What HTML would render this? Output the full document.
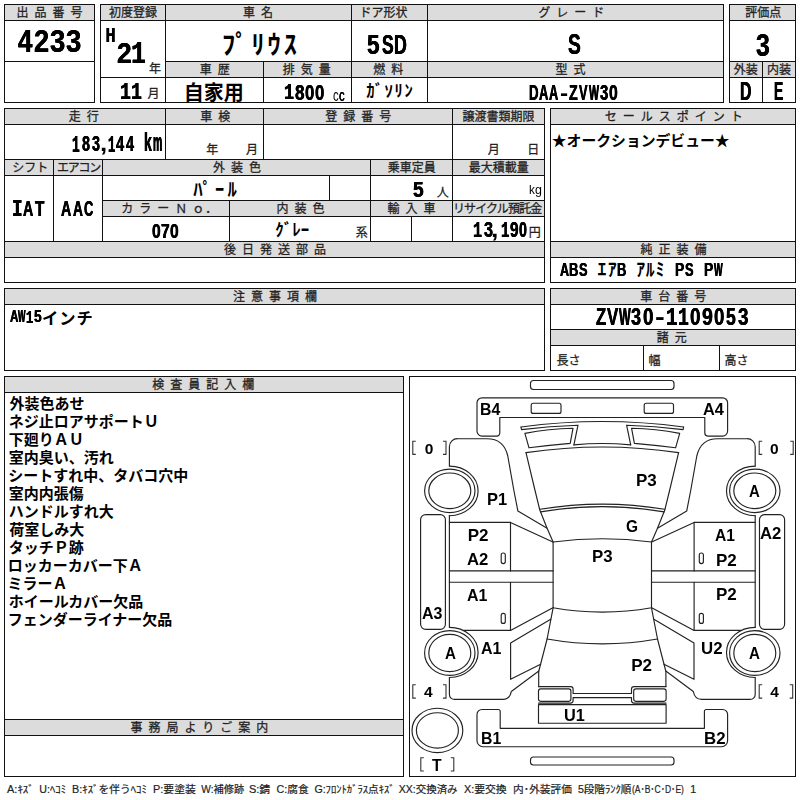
<!DOCTYPE html>
<html lang="ja"><head><meta charset="utf-8"><title>出品票 4233</title>
<style>
html,body{margin:0;padding:0;background:#fff}
#p{position:relative;width:800px;height:800px;overflow:hidden;background:#fff;font-family:"Liberation Sans",sans-serif}
#p div{position:absolute}
#p div.l{background:#111}
#p span{position:absolute;white-space:pre;line-height:1;transform-origin:0 0;color:#000}
.b{font-family:"Liberation Sans",sans-serif;font-weight:bold}
.r{font-family:"Liberation Sans",sans-serif;font-weight:normal}
.m{font-family:"Liberation Mono",monospace;font-weight:bold}
.d{font-family:"Liberation Sans",sans-serif;font-weight:bold;font-size:17px}
svg{position:absolute;left:0;top:0}
svg text{font-family:"Liberation Sans","Noto Sans CJK JP",sans-serif;white-space:pre}
.lb{fill:#222;stroke:#222;stroke-width:.26px;font-size:12px}
.lf{fill:#222;stroke:#222;stroke-width:.2px;font-size:10.7px}
.k{fill:#000;font-weight:bold}
#t{left:0;top:0;width:800px;height:800px;will-change:transform}
</style></head><body>
<div id="p">
<div style="left:5px;top:5px;width:89px;height:15px;background:#dcdcdc"></div>
<div style="left:101px;top:5px;width:622px;height:15px;background:#dcdcdc"></div>
<div style="left:166px;top:62px;width:557px;height:15px;background:#dcdcdc"></div>
<div style="left:730px;top:5px;width:65px;height:15px;background:#dcdcdc"></div>
<div style="left:730px;top:62px;width:65px;height:15px;background:#dcdcdc"></div>
<div style="left:5px;top:109px;width:539px;height:15px;background:#dcdcdc"></div>
<div style="left:5px;top:160px;width:539px;height:15px;background:#dcdcdc"></div>
<div style="left:103px;top:201px;width:441px;height:15px;background:#dcdcdc"></div>
<div style="left:5px;top:242px;width:539px;height:15px;background:#dcdcdc"></div>
<div style="left:551px;top:109px;width:244px;height:15px;background:#dcdcdc"></div>
<div style="left:551px;top:242px;width:244px;height:15px;background:#dcdcdc"></div>
<div style="left:5px;top:289px;width:539px;height:15px;background:#dcdcdc"></div>
<div style="left:551px;top:289px;width:244px;height:15px;background:#dcdcdc"></div>
<div style="left:551px;top:330px;width:244px;height:15px;background:#dcdcdc"></div>
<div style="left:5px;top:377px;width:398px;height:15px;background:#dcdcdc"></div>
<div style="left:5px;top:720px;width:398px;height:15px;background:#dcdcdc"></div>
<div class="l" style="left:4px;top:4px;width:91px;height:1px"></div>
<div class="l" style="left:4px;top:102px;width:91px;height:1px"></div>
<div class="l" style="left:4px;top:4px;width:1px;height:99px"></div>
<div class="l" style="left:94px;top:4px;width:1px;height:99px"></div>
<div class="l" style="left:4px;top:20px;width:91px;height:1px"></div>
<div class="l" style="left:4px;top:61px;width:91px;height:1px"></div>
<div class="l" style="left:100px;top:4px;width:624px;height:1px"></div>
<div class="l" style="left:100px;top:102px;width:624px;height:1px"></div>
<div class="l" style="left:100px;top:4px;width:1px;height:99px"></div>
<div class="l" style="left:723px;top:4px;width:1px;height:99px"></div>
<div class="l" style="left:100px;top:20px;width:624px;height:1px"></div>
<div class="l" style="left:165px;top:4px;width:1px;height:99px"></div>
<div class="l" style="left:351px;top:4px;width:1px;height:99px"></div>
<div class="l" style="left:427px;top:4px;width:1px;height:99px"></div>
<div class="l" style="left:263px;top:61px;width:1px;height:42px"></div>
<div class="l" style="left:100px;top:77px;width:66px;height:1px"></div>
<div class="l" style="left:165px;top:61px;width:559px;height:1px"></div>
<div class="l" style="left:165px;top:77px;width:559px;height:1px"></div>
<div class="l" style="left:729px;top:4px;width:67px;height:1px"></div>
<div class="l" style="left:729px;top:102px;width:67px;height:1px"></div>
<div class="l" style="left:729px;top:4px;width:1px;height:99px"></div>
<div class="l" style="left:795px;top:4px;width:1px;height:99px"></div>
<div class="l" style="left:729px;top:20px;width:67px;height:1px"></div>
<div class="l" style="left:729px;top:61px;width:67px;height:1px"></div>
<div class="l" style="left:729px;top:77px;width:67px;height:1px"></div>
<div class="l" style="left:762px;top:61px;width:1px;height:42px"></div>
<div class="l" style="left:4px;top:108px;width:541px;height:1px"></div>
<div class="l" style="left:4px;top:282px;width:541px;height:1px"></div>
<div class="l" style="left:4px;top:108px;width:1px;height:175px"></div>
<div class="l" style="left:544px;top:108px;width:1px;height:175px"></div>
<div class="l" style="left:4px;top:124px;width:541px;height:1px"></div>
<div class="l" style="left:4px;top:159px;width:541px;height:1px"></div>
<div class="l" style="left:4px;top:175px;width:541px;height:1px"></div>
<div class="l" style="left:102px;top:200px;width:443px;height:1px"></div>
<div class="l" style="left:102px;top:216px;width:443px;height:1px"></div>
<div class="l" style="left:4px;top:241px;width:541px;height:1px"></div>
<div class="l" style="left:4px;top:257px;width:541px;height:1px"></div>
<div class="l" style="left:165px;top:108px;width:1px;height:52px"></div>
<div class="l" style="left:263px;top:108px;width:1px;height:52px"></div>
<div class="l" style="left:452px;top:108px;width:1px;height:134px"></div>
<div class="l" style="left:53px;top:159px;width:1px;height:83px"></div>
<div class="l" style="left:102px;top:159px;width:1px;height:83px"></div>
<div class="l" style="left:370px;top:159px;width:1px;height:83px"></div>
<div class="l" style="left:329px;top:175px;width:1px;height:26px"></div>
<div class="l" style="left:229px;top:200px;width:1px;height:42px"></div>
<div class="l" style="left:411px;top:216px;width:1px;height:26px"></div>
<div class="l" style="left:550px;top:108px;width:246px;height:1px"></div>
<div class="l" style="left:550px;top:282px;width:246px;height:1px"></div>
<div class="l" style="left:550px;top:108px;width:1px;height:175px"></div>
<div class="l" style="left:795px;top:108px;width:1px;height:175px"></div>
<div class="l" style="left:550px;top:124px;width:246px;height:1px"></div>
<div class="l" style="left:550px;top:241px;width:246px;height:1px"></div>
<div class="l" style="left:550px;top:257px;width:246px;height:1px"></div>
<div class="l" style="left:4px;top:288px;width:541px;height:1px"></div>
<div class="l" style="left:4px;top:370px;width:541px;height:1px"></div>
<div class="l" style="left:4px;top:288px;width:1px;height:83px"></div>
<div class="l" style="left:544px;top:288px;width:1px;height:83px"></div>
<div class="l" style="left:4px;top:304px;width:541px;height:1px"></div>
<div class="l" style="left:550px;top:288px;width:246px;height:1px"></div>
<div class="l" style="left:550px;top:370px;width:246px;height:1px"></div>
<div class="l" style="left:550px;top:288px;width:1px;height:83px"></div>
<div class="l" style="left:795px;top:288px;width:1px;height:83px"></div>
<div class="l" style="left:550px;top:304px;width:246px;height:1px"></div>
<div class="l" style="left:550px;top:329px;width:246px;height:1px"></div>
<div class="l" style="left:550px;top:345px;width:246px;height:1px"></div>
<div class="l" style="left:643px;top:345px;width:1px;height:26px"></div>
<div class="l" style="left:719px;top:345px;width:1px;height:26px"></div>
<div class="l" style="left:4px;top:376px;width:400px;height:1px"></div>
<div class="l" style="left:4px;top:776px;width:400px;height:1px"></div>
<div class="l" style="left:4px;top:376px;width:1px;height:401px"></div>
<div class="l" style="left:403px;top:376px;width:1px;height:401px"></div>
<div class="l" style="left:4px;top:392px;width:400px;height:1px"></div>
<div class="l" style="left:4px;top:719px;width:400px;height:1px"></div>
<div class="l" style="left:4px;top:735px;width:400px;height:1px"></div>
<div class="l" style="left:409px;top:376px;width:387px;height:1px"></div>
<div class="l" style="left:409px;top:776px;width:387px;height:1px"></div>
<div class="l" style="left:409px;top:376px;width:1px;height:401px"></div>
<div class="l" style="left:795px;top:376px;width:1px;height:401px"></div>
<svg width="800" height="800" viewBox="0 0 800 800">
<desc>出品番号 初度登録 車名 ドア形状 グレード 評価点 車歴 排気量 燃料 型式 外装 内装 走行 車検 登録番号 譲渡書類期限 セールスポイント シフト エアコン 外装色 乗車定員 最大積載量 カラーＮ ｏ ． 内装色 輸入車 リサイクル預託金 後日発送部品 純正装備 注意事項欄 車台番号 諸元 検査員記入欄 事務局よりご案内 年 月 年 月 月 日 人 円 系 長さ 幅 高さ ﾌﾟﾘｳｽ 自家用 ｶﾞｿﾘﾝ ﾊﾟｰﾙ ｸﾞﾚｰ ★オークションデビュー★ ｴｱ ｱﾙﾐ インチ 外装色あせ ネジ止ロアサポートＵ 下廻りＡＵ 室内臭い、汚れ シートすれ中、タバコ穴中 室内内張傷 ハンドルすれ大 荷室しみ大 タッチＰ跡 ロッカーカバー下Ａ ミラーＡ ホイールカバー欠品 フェンダーライナー欠品 A:ｷｽﾞ U:ﾍｺﾐ B:ｷｽﾞを伴うﾍｺﾐ P:要塗装 W:補修跡 S:錆 C:腐食 G:ﾌﾛﾝﾄｶﾞﾗｽ点ｷｽﾞ XX:交換済み X:要交換 内･外装評価 5段階ﾗﾝｸ順 (A･B･C･D･E) 1</desc>
<g fill="none" stroke="#222" stroke-width="1.15" stroke-linejoin="round" stroke-linecap="round">
<rect x="530.5" y="380.5" width="143.5" height="9" rx="3" ry="3"/>
<rect x="530.5" y="757" width="143.5" height="8" rx="3" ry="3"/>
<path d="M482.0 397.8H722.5999999999999A5 5 0 0 1 727.5999999999999 402.8V431.1A5 5 0 0 1 722.5999999999999 436.1H707.8A3 3 0 0 1 704.8 433.1V417.5H499.8V433.1A3 3 0 0 1 496.8 436.1H482.0A5 5 0 0 1 477.0 431.1V402.8A5 5 0 0 1 482.0 397.8Z"/>
<rect x="531.2" y="403.2" width="29.8" height="10.2" rx="2" ry="2"/>
<rect x="644.2" y="403.2" width="29.3" height="10.2" rx="2" ry="2"/>
<path d="M482.0 709.5H498.2A2 2 0 0 1 500.2 711.5V728.3H704.3999999999999V711.5A2 2 0 0 1 706.3999999999999 709.5H722.5999999999999A5 5 0 0 1 727.5999999999999 714.5V740.7A6 6 0 0 1 721.5999999999999 746.7H483.0A6 6 0 0 1 477.0 740.7V714.5A5 5 0 0 1 482.0 709.5Z"/>
<ellipse cx="449.8" cy="490.8" rx="25.2" ry="21.75"/>
<ellipse cx="449.8" cy="490.8" rx="21" ry="17.8"/>
<path d="M449.4 466.1A28.7 24.8 0 0 1 449.4 515.7"/>
<ellipse cx="449.8" cy="653" rx="25.2" ry="22.4"/>
<ellipse cx="449.8" cy="653" rx="21" ry="18.6"/>
<path d="M449.4 627.3A28.7 25.1 0 0 1 449.4 677.5"/>
<ellipse cx="754.8" cy="490.8" rx="25.2" ry="21.75"/>
<ellipse cx="754.8" cy="490.8" rx="21" ry="17.8"/>
<path d="M755.2 466.1A28.7 24.8 0 0 0 755.2 515.7"/>
<ellipse cx="754.8" cy="653" rx="25.2" ry="22.4"/>
<ellipse cx="754.8" cy="653" rx="21" ry="18.6"/>
<path d="M755.2 627.3A28.7 25.1 0 0 0 755.2 677.5"/>
<ellipse cx="437.4" cy="730.4" rx="25.4" ry="22.2"/>
<ellipse cx="437.4" cy="730.4" rx="21" ry="17.7"/>
<rect x="420.6" y="514.6" width="24.8" height="114.7" rx="5" ry="5"/>
<rect x="759.5" y="514.6" width="25.1" height="114.7" rx="5" ry="5"/>
<path d="M449.4 466V446.7A8 8 0 0 1 457.8 438.7H487C498 438.7 505.3 445 507.8 456L513.8 490L517.9 511.1L547.1 528.2"/>
<path d="M449.4 515.6V627.3"/>
<path d="M449.4 522.4H510.5L552.9 542"/>
<path d="M510.5 522.4V570.9M510.5 582.2V630.4"/>
<path d="M449.4 570.9H553.1M449.4 582.2H553.1"/>
<path d="M463.4 630.4H510.5L552.9 607.8"/>
<rect x="501.2" y="553" width="4.1" height="10.6" rx="2" ry="2"/>
<rect x="501.2" y="613.3" width="4.1" height="10.1" rx="2" ry="2"/>
<path d="M526 452.6L534.9 490L539.8 510L547.1 528.2L553.1 542"/>
<path d="M553.1 607.8L547.1 639L538.7 671.5V686.6"/>
<path d="M550.7 619.2L510.6 643V679.3L540.6 664.2"/>
<path d="M449.4 677.5V694.4A5 5 0 0 0 454.8 699.4H503Q509.8 699.4 511.3 691.5L538.8 671"/>
<path d="M524.9 433.4Q549 428.7 573 428.3L570.2 443.4Q549.7 445.2 529 447.8Z"/>
<path d="M521 427L521.5 429.6Q550 426.2 578 425.2L573.9 444.9"/>
<rect x="538.5" y="688.9" width="32.4" height="12.4" rx="2.2" ry="2.2"/>
<path d="M755.2 466V446.7A8 8 0 0 0 746.8 438.7H717.6C706.6 438.7 699.3 445 696.8 456L690.8 490L686.7 511.1L657.5 528.2"/>
<path d="M755.2 515.6V627.3"/>
<path d="M755.2 522.4H694.1L651.7 542"/>
<path d="M694.1 522.4V570.9M694.1 582.2V630.4"/>
<path d="M755.2 570.9H651.5M755.2 582.2H651.5"/>
<path d="M741.2 630.4H694.1L651.7 607.8"/>
<rect x="699.3" y="553" width="4.1" height="10.6" rx="2" ry="2"/>
<rect x="699.3" y="613.3" width="4.1" height="10.1" rx="2" ry="2"/>
<path d="M678.6 452.6L669.7 490L664.8 510L657.5 528.2L651.5 542"/>
<path d="M651.5 607.8L657.5 639L665.9 671.5V686.6"/>
<path d="M653.9 619.2L694 643V679.3L664 664.2"/>
<path d="M755.2 677.5V694.4A5 5 0 0 1 749.8 699.4H701.6Q694.8 699.4 693.3 691.5L665.8 671"/>
<path d="M679.7 433.4Q655.6 428.7 631.6 428.3L634.4 443.4Q654.9 445.2 675.6 447.8Z"/>
<path d="M683.6 427L683.1 429.6Q654.6 426.2 626.6 425.2L630.7 444.9"/>
<rect x="633.7" y="688.9" width="32.4" height="12.4" rx="2.2" ry="2.2"/>
<path d="M553.1 542Q602.3 535.4 651.5 542V607.8Q602.3 616.4 553.1 607.8Z"/>
<path d="M526 452.6Q602.3 441.4 678.6 452.6"/>
<path d="M539.8 509.3Q602.3 498.9 664.8 509.3"/>
<path d="M540.5 511.9Q602.3 501.4 664.1 511.9"/>
<path d="M521 427Q602.3 416 683.6 427"/>
<path d="M573.9 444.9Q602.3 442.1 630.7 444.9"/>
<path d="M547.1 639Q602.3 648.8 657.5 639"/>
<path d="M538.5 686.6H570.6Q573.1 686.6 573.1 689.1V693.5H631.5V689.1Q631.5 686.6 634 686.6H666.1"/>
<path d="M538.5 703.1H570.6Q573.1 703.1 573.1 700.6V697.6H631.5V700.6Q631.5 703.1 634 703.1H666.1"/>
<path d="M538.5 704.6H666.1V723.2H538.5Z"/>
<path stroke="#333" stroke-width="1.1" stroke-linecap="butt" stroke-linejoin="miter" d="M415.8 441.3H412.8V454.4H415.8M443 441.3H446V454.4H443"/>
<path stroke="#333" stroke-width="1.1" stroke-linecap="butt" stroke-linejoin="miter" d="M762.2 441.3H759.2V454.4H762.2M790.2 441.3H793.2V454.4H790.2"/>
<path stroke="#333" stroke-width="1.1" stroke-linecap="butt" stroke-linejoin="miter" d="M415.8 684.7H412.8V698.1H415.8M443 684.7H446V698.1H443"/>
<path stroke="#333" stroke-width="1.1" stroke-linecap="butt" stroke-linejoin="miter" d="M762.2 684.7H759.2V698.1H762.2M789.7 684.7H792.7V698.1H789.7"/>
<path stroke="#333" stroke-width="1.1" stroke-linecap="butt" stroke-linejoin="miter" d="M423.8 757.8H420.8V771H423.8M450.8 757.8H453.8V771H450.8"/>
</g>
<text class="lb" x="16.61" y="17.2" letter-spacing="6">出品番号</text>
<text class="lb" x="108.95" y="17.2">初度登録</text>
<text class="lb" x="242.97" y="17.2" letter-spacing="6">車名</text>
<text class="lb" x="359.47" y="17.2">ドア形状</text>
<text class="lb" x="538.24" y="17.2" letter-spacing="6">グレード</text>
<text class="lb" x="745.14" y="17.2">評価点</text>
<text class="lb" x="199.82" y="74.2" letter-spacing="6">車歴</text>
<text class="lb" x="282.78" y="74.2" letter-spacing="6">排気量</text>
<text class="lb" x="373.32" y="74.2" letter-spacing="6">燃料</text>
<text class="lb" x="555.58" y="74.2" letter-spacing="6">型式</text>
<text class="lb" x="733.77" y="74.2">外装</text>
<text class="lb" x="766.92" y="74.2">内装</text>
<text class="lb" x="68.83" y="121.2" letter-spacing="6">走行</text>
<text class="lb" x="200.22" y="121.2" letter-spacing="6">車検</text>
<text class="lb" x="325.2" y="121.2" letter-spacing="6">登録番号</text>
<text class="lb" x="462.61" y="121.2">譲渡書類期限</text>
<text class="lb" x="604.7" y="121.2" letter-spacing="6">セールスポイント</text>
<text class="lb" x="12.32" y="172.2">シフト</text>
<text class="lb" x="56.92" y="172.2" letter-spacing="-1.2">エアコン</text>
<text class="lb" x="213.02" y="172.2" letter-spacing="6">外装色</text>
<text class="lb" x="387.79" y="172.2">乗車定員</text>
<text class="lb" x="468.78" y="172.2">最大積載量</text>
<text class="lb" x="121.31" y="213.2" letter-spacing="6">カラーＮ</text>
<text class="lb" x="192.22" y="213.2">ｏ</text>
<text class="lb" x="205.3" y="213.2">．</text>
<text class="lb" x="276.42" y="213.2" letter-spacing="6">内装色</text>
<text class="lb" x="387.47" y="213.2" letter-spacing="6">輸入車</text>
<text class="lb" x="452.91" y="213.2" letter-spacing="-0.87">リサイクル預託金</text>
<text class="lb" x="224.03" y="254.2" letter-spacing="6">後日発送部品</text>
<text class="lb" x="640.56" y="254.2" letter-spacing="6">純正装備</text>
<text class="lb" x="232.94" y="301.2" letter-spacing="6">注意事項欄</text>
<text class="lb" x="640.32" y="301.2" letter-spacing="6">車台番号</text>
<text class="lb" x="656.78" y="342.2" letter-spacing="6">諸元</text>
<text class="lb" x="152.15" y="389.2" letter-spacing="6">検査員記入欄</text>
<text class="lb" x="130.4" y="732.2" letter-spacing="6">事務局よりご案内</text>
<text class="lb" x="149.06" y="72.76">年</text>
<text class="lb" x="147.51" y="98.22">月</text>
<text class="lb" x="206.16" y="154.16">年</text>
<text class="lb" x="245.91" y="154.12">月</text>
<text class="lb" x="487.86" y="154.12">月</text>
<text class="lb" x="527.13" y="154.46">日</text>
<text class="lb" x="436.67" y="196.63">人</text>
<text class="lb" x="528.71" y="237.08">円</text>
<text class="lb" x="355.64" y="237.06">系</text>
<text class="lb" x="556.44" y="364.54">長さ</text>
<text class="lb" x="648.61" y="364.56">幅</text>
<text class="lb" x="724.4" y="364.56">高さ</text>
<text class="k" x="222" y="54.07" font-size="26.3" textLength="75" lengthAdjust="spacing">ﾌﾟﾘｳｽ</text>
<text class="k" x="183.72" y="100.47" font-size="20">自家用</text>
<text class="k" x="366.3" y="97.13" font-size="16.7" textLength="46.5" lengthAdjust="spacing">ｶﾞｿﾘﾝ</text>
<text class="k" x="193.2" y="195.74" font-size="18.6" textLength="43.5" lengthAdjust="spacing">ﾊﾟｰﾙ</text>
<text class="k" x="275.3" y="236.3" font-size="16.95" textLength="34" lengthAdjust="spacing">ｸﾞﾚｰ</text>
<text class="k" x="551.74" y="145.86" font-size="14.84">★オークションデビュー★</text>
<text class="k" x="597.6" y="276.21" font-size="17.76" textLength="19" lengthAdjust="spacing">ｴｱ</text>
<text class="k" x="636.3" y="276.21" font-size="17.76" textLength="28" lengthAdjust="spacing">ｱﾙﾐ</text>
<text class="k" x="41.89" y="324.05" font-size="16.3" letter-spacing="1">インチ</text>
<text class="k" x="9.38" y="408.81" font-size="15">外装色あせ</text>
<text class="k" x="8.78" y="427.25" font-size="15">ネジ止ロアサポートＵ</text>
<text class="k" x="8.82" y="444.89" font-size="15">下廻りＡＵ</text>
<text class="k" x="8.73" y="462.82" font-size="15">室内臭い、汚れ</text>
<text class="k" x="8.37" y="480.83" font-size="15">シートすれ中、タバコ穴中</text>
<text class="k" x="8.73" y="498.75" font-size="15">室内内張傷</text>
<text class="k" x="8.85" y="516.91" font-size="15">ハンドルすれ大</text>
<text class="k" x="9.22" y="534.87" font-size="15">荷室しみ大</text>
<text class="k" x="8.7" y="552.81" font-size="15">タッチＰ跡</text>
<text class="k" x="7.72" y="570.81" font-size="15">ロッカーカバー下Ａ</text>
<text class="k" x="7.53" y="589.33" font-size="15">ミラーＡ</text>
<text class="k" x="8.82" y="606.85" font-size="15">ホイールカバー欠品</text>
<text class="k" x="7.65" y="624.85" font-size="15">フェンダーライナー欠品</text>
<text class="lf" x="7.1" y="792.5" textLength="26.7" lengthAdjust="spacingAndGlyphs">A:ｷｽﾞ</text>
<text class="lf" x="39.3" y="792.5" textLength="26.7" lengthAdjust="spacingAndGlyphs">U:ﾍｺﾐ</text>
<text class="lf" x="72.1" y="792.5" textLength="74.8" lengthAdjust="spacingAndGlyphs">B:ｷｽﾞを伴うﾍｺﾐ</text>
<text class="lf" x="153.1" y="792.5" textLength="42.8" lengthAdjust="spacingAndGlyphs">P:要塗装</text>
<text class="lf" x="201.3" y="792.5" textLength="42.8" lengthAdjust="spacingAndGlyphs">W:補修跡</text>
<text class="lf" x="248.9" y="792.5" textLength="21.4" lengthAdjust="spacingAndGlyphs">S:錆</text>
<text class="lf" x="276.6" y="792.5" textLength="32.1" lengthAdjust="spacingAndGlyphs">C:腐食</text>
<text class="lf" x="314.4" y="792.5" textLength="80.2" lengthAdjust="spacingAndGlyphs">G:ﾌﾛﾝﾄｶﾞﾗｽ点ｷｽﾞ</text>
<text class="lf" x="398.8" y="792.5" textLength="58.8" lengthAdjust="spacingAndGlyphs">XX:交換済み</text>
<text class="lf" x="463.9" y="792.5" textLength="42.8" lengthAdjust="spacingAndGlyphs">X:要交換</text>
<text class="lf" x="513.1" y="792.5" textLength="58.8" lengthAdjust="spacingAndGlyphs">内･外装評価</text>
<text class="lf" x="577.9" y="792.5" textLength="53.5" lengthAdjust="spacingAndGlyphs">5段階ﾗﾝｸ順</text>
<text class="lf" x="631.9" y="792.5" textLength="52" lengthAdjust="spacingAndGlyphs">(A･B･C･D･E)</text>
<text class="lf" x="690.3" y="792.5">1</text>
</svg>
<div id="t">
<span class="b" style="left:18.44px;top:26.26px;font-size:31.28px;transform:scaleX(0.83);text-shadow:0.42px 0 0 #000,-0.42px 0 0 #000">4</span>
<span class="b" style="left:34.07px;top:26.26px;font-size:31.28px;transform:scaleX(0.87);text-shadow:0.4px 0 0 #000,-0.4px 0 0 #000">2</span>
<span class="b" style="left:49.86px;top:26.26px;font-size:31.28px;transform:scaleX(0.88);text-shadow:0.4px 0 0 #000,-0.4px 0 0 #000">3</span>
<span class="b" style="left:65.56px;top:26.26px;font-size:31.28px;transform:scaleX(0.88);text-shadow:0.4px 0 0 #000,-0.4px 0 0 #000">3</span>
<span class="b" style="left:106.36px;top:25.56px;font-size:19.77px;transform:scaleX(0.64);text-shadow:0.63px 0 0 #000,-0.63px 0 0 #000">H</span>
<span class="b" style="left:116.64px;top:38.09px;font-size:30.37px;transform:scaleX(0.87);text-shadow:0.4px 0 0 #000,-0.4px 0 0 #000">2</span>
<span class="m" style="left:130.79px;top:39.53px;font-size:31.68px;transform:scaleX(0.78);text-shadow:0.45px 0 0 #000,-0.45px 0 0 #000">1</span>
<span class="m" style="left:120.08px;top:80.63px;font-size:23.72px;transform:scaleX(0.77);text-shadow:0.46px 0 0 #000,-0.46px 0 0 #000">1</span>
<span class="m" style="left:131.28px;top:80.63px;font-size:23.72px;transform:scaleX(0.77);text-shadow:0.46px 0 0 #000,-0.46px 0 0 #000">1</span>
<span class="m" style="left:284.42px;top:82.97px;font-size:22.1px;transform:scaleX(0.76);text-shadow:0.46px 0 0 #000,-0.46px 0 0 #000">1</span>
<span class="b" style="left:294.8px;top:81.96px;font-size:21.19px;transform:scaleX(0.81);text-shadow:0.43px 0 0 #000,-0.43px 0 0 #000">8</span>
<span class="b" style="left:304.76px;top:81.96px;font-size:21.19px;transform:scaleX(0.79);text-shadow:0.44px 0 0 #000,-0.44px 0 0 #000">0</span>
<span class="b" style="left:314.58px;top:81.96px;font-size:21.19px;transform:scaleX(0.79);text-shadow:0.44px 0 0 #000,-0.44px 0 0 #000">0</span>
<span class="r" style="left:332.52px;top:87.5px;font-size:15.71px;transform:scaleX(0.72)">c</span>
<span class="r" style="left:338.72px;top:87.5px;font-size:15.71px;transform:scaleX(0.72);text-shadow:0.14px 0 0 #000,-0.14px 0 0 #000">c</span>
<span class="b" style="left:367.11px;top:29.83px;font-size:28.25px;transform:scaleX(0.8);text-shadow:0.44px 0 0 #000,-0.44px 0 0 #000">5</span>
<span class="b" style="left:381.75px;top:29.83px;font-size:28.25px;transform:scaleX(0.62);text-shadow:0.56px 0 0 #000,-0.56px 0 0 #000">S</span>
<span class="b" style="left:394.43px;top:29.83px;font-size:28.25px;transform:scaleX(0.63);text-shadow:0.55px 0 0 #000,-0.55px 0 0 #000">D</span>
<span class="b" style="left:568.3px;top:29.77px;font-size:29.1px;transform:scaleX(0.66);text-shadow:0.53px 0 0 #000,-0.53px 0 0 #000">S</span>
<span class="b" style="left:528.67px;top:81.7px;font-size:21.61px;transform:scaleX(0.61);text-shadow:0.57px 0 0 #000,-0.57px 0 0 #000">D</span>
<span class="b" style="left:538.93px;top:81.7px;font-size:21.61px;transform:scaleX(0.6);text-shadow:0.58px 0 0 #000,-0.58px 0 0 #000">A</span>
<span class="b" style="left:549.03px;top:81.7px;font-size:21.61px;transform:scaleX(0.59);text-shadow:0.6px 0 0 #000,-0.6px 0 0 #000">A</span>
<span class="b" style="left:559.55px;top:81.7px;font-size:21.61px;transform:scaleX(1.13)">-</span>
<span class="b" style="left:569.22px;top:81.7px;font-size:21.61px;transform:scaleX(0.66);text-shadow:0.53px 0 0 #000,-0.53px 0 0 #000">Z</span>
<span class="b" style="left:579.36px;top:81.7px;font-size:21.61px;transform:scaleX(0.59);text-shadow:0.6px 0 0 #000,-0.6px 0 0 #000">V</span>
<span class="b" style="left:588.59px;top:81.7px;font-size:21.61px;transform:scaleX(0.49);text-shadow:0.71px 0 0 #000,-0.71px 0 0 #000">W</span>
<span class="b" style="left:599.56px;top:81.7px;font-size:21.61px;transform:scaleX(0.69);text-shadow:0.51px 0 0 #000,-0.51px 0 0 #000">3</span>
<span class="b" style="left:609.23px;top:81.7px;font-size:21.61px;transform:scaleX(0.73);text-shadow:0.48px 0 0 #000,-0.48px 0 0 #000">0</span>
<span class="b" style="left:755.63px;top:29.79px;font-size:31.78px;transform:scaleX(0.78);text-shadow:0.45px 0 0 #000,-0.45px 0 0 #000">3</span>
<span class="b" style="left:740.03px;top:78.1px;font-size:25.99px;transform:scaleX(0.61);text-shadow:0.57px 0 0 #000,-0.57px 0 0 #000">D</span>
<span class="b" style="left:773.67px;top:78.1px;font-size:25.99px;transform:scaleX(0.53);text-shadow:0.65px 0 0 #000,-0.65px 0 0 #000">E</span>
<span class="m" style="left:72.23px;top:133.95px;font-size:23.43px;transform:scaleX(0.55);text-shadow:0.64px 0 0 #000,-0.64px 0 0 #000">1</span>
<span class="b" style="left:81.77px;top:132.89px;font-size:22.46px;transform:scaleX(0.64);text-shadow:0.54px 0 0 #000,-0.54px 0 0 #000">8</span>
<span class="b" style="left:91.52px;top:132.89px;font-size:22.46px;transform:scaleX(0.64);text-shadow:0.54px 0 0 #000,-0.54px 0 0 #000">3</span>
<span class="b" style="left:100.14px;top:132.89px;font-size:22.46px;transform:scaleX(1.15)">,</span>
<span class="m" style="left:107.58px;top:133.95px;font-size:23.43px;transform:scaleX(0.52);text-shadow:0.67px 0 0 #000,-0.67px 0 0 #000">1</span>
<span class="b" style="left:116.38px;top:132.89px;font-size:22.46px;transform:scaleX(0.65);text-shadow:0.54px 0 0 #000,-0.54px 0 0 #000">4</span>
<span class="b" style="left:126.13px;top:132.89px;font-size:22.46px;transform:scaleX(0.64);text-shadow:0.55px 0 0 #000,-0.55px 0 0 #000">4</span>
<span class="b" style="left:144.38px;top:129.93px;font-size:25.95px;transform:scaleX(0.54);text-shadow:0.65px 0 0 #000,-0.65px 0 0 #000">k</span>
<span class="b" style="left:153.44px;top:129.93px;font-size:25.95px;transform:scaleX(0.4);text-shadow:0.37px 0 0 #000,-0.37px 0 0 #000">m</span>
<span class="m" style="left:12.1px;top:198.41px;font-size:23.94px;transform:scaleX(0.74);text-shadow:0.47px 0 0 #000,-0.47px 0 0 #000">I</span>
<span class="b" style="left:23.34px;top:197.32px;font-size:22.95px;transform:scaleX(0.62);text-shadow:0.56px 0 0 #000,-0.56px 0 0 #000">A</span>
<span class="b" style="left:35.23px;top:197.32px;font-size:22.95px;transform:scaleX(0.67);text-shadow:0.53px 0 0 #000,-0.53px 0 0 #000">T</span>
<span class="b" style="left:61.19px;top:197.32px;font-size:22.95px;transform:scaleX(0.62);text-shadow:0.56px 0 0 #000,-0.56px 0 0 #000">A</span>
<span class="b" style="left:72.61px;top:197.32px;font-size:22.95px;transform:scaleX(0.6);text-shadow:0.59px 0 0 #000,-0.59px 0 0 #000">A</span>
<span class="b" style="left:83.92px;top:197.32px;font-size:22.95px;transform:scaleX(0.56);text-shadow:0.63px 0 0 #000,-0.63px 0 0 #000">C</span>
<span class="b" style="left:152.28px;top:221.51px;font-size:19.77px;transform:scaleX(0.79);text-shadow:0.44px 0 0 #000,-0.44px 0 0 #000">0</span>
<span class="b" style="left:161.29px;top:221.51px;font-size:19.77px;transform:scaleX(0.79);text-shadow:0.45px 0 0 #000,-0.45px 0 0 #000">7</span>
<span class="b" style="left:170.28px;top:221.51px;font-size:19.77px;transform:scaleX(0.79);text-shadow:0.44px 0 0 #000,-0.44px 0 0 #000">0</span>
<span class="b" style="left:412.96px;top:178.5px;font-size:21.61px;transform:scaleX(0.89);text-shadow:0.39px 0 0 #000,-0.39px 0 0 #000">5</span>
<span class="r" style="left:529.11px;top:183.48px;font-size:13.25px;transform:scaleX(0.89)">k</span>
<span class="r" style="left:535.08px;top:183.48px;font-size:13.25px;transform:scaleX(0.94)">g</span>
<span class="m" style="left:473.08px;top:220.03px;font-size:22.54px;transform:scaleX(0.67);text-shadow:0.52px 0 0 #000,-0.52px 0 0 #000">1</span>
<span class="b" style="left:483.7px;top:219px;font-size:21.61px;transform:scaleX(0.75);text-shadow:0.47px 0 0 #000,-0.47px 0 0 #000">3</span>
<span class="b" style="left:491.3px;top:219px;font-size:21.61px;transform:scaleX(1.23)">,</span>
<span class="m" style="left:500.67px;top:220.03px;font-size:22.54px;transform:scaleX(0.62);text-shadow:0.57px 0 0 #000,-0.57px 0 0 #000">1</span>
<span class="b" style="left:509.82px;top:219px;font-size:21.61px;transform:scaleX(0.71);text-shadow:0.5px 0 0 #000,-0.5px 0 0 #000">9</span>
<span class="b" style="left:518.53px;top:219px;font-size:21.61px;transform:scaleX(0.66);text-shadow:0.53px 0 0 #000,-0.53px 0 0 #000">0</span>
<span class="b" style="left:559.83px;top:260.26px;font-size:19.07px;transform:scaleX(0.66);text-shadow:0.53px 0 0 #000,-0.53px 0 0 #000">A</span>
<span class="b" style="left:569.18px;top:260.26px;font-size:19.07px;transform:scaleX(0.68);text-shadow:0.52px 0 0 #000,-0.52px 0 0 #000">B</span>
<span class="b" style="left:579.38px;top:260.26px;font-size:19.07px;transform:scaleX(0.67);text-shadow:0.52px 0 0 #000,-0.52px 0 0 #000">S</span>
<span class="b" style="left:617.18px;top:260.26px;font-size:19.07px;transform:scaleX(0.68);text-shadow:0.52px 0 0 #000,-0.52px 0 0 #000">B</span>
<span class="b" style="left:674.72px;top:260.26px;font-size:19.07px;transform:scaleX(0.73);text-shadow:0.48px 0 0 #000,-0.48px 0 0 #000">P</span>
<span class="b" style="left:684.98px;top:260.26px;font-size:19.07px;transform:scaleX(0.67);text-shadow:0.52px 0 0 #000,-0.52px 0 0 #000">S</span>
<span class="b" style="left:703.52px;top:260.26px;font-size:19.07px;transform:scaleX(0.73);text-shadow:0.48px 0 0 #000,-0.48px 0 0 #000">P</span>
<span class="b" style="left:713.69px;top:260.26px;font-size:19.07px;transform:scaleX(0.48);text-shadow:0.73px 0 0 #000,-0.73px 0 0 #000">W</span>
<span class="b" style="left:595.63px;top:305.31px;font-size:24.79px;transform:scaleX(0.67);text-shadow:0.52px 0 0 #000,-0.52px 0 0 #000">Z</span>
<span class="b" style="left:606.93px;top:305.31px;font-size:24.79px;transform:scaleX(0.68);text-shadow:0.51px 0 0 #000,-0.51px 0 0 #000">V</span>
<span class="b" style="left:618.59px;top:305.31px;font-size:24.79px;transform:scaleX(0.5);text-shadow:0.7px 0 0 #000,-0.7px 0 0 #000">W</span>
<span class="b" style="left:631.36px;top:305.31px;font-size:24.79px;transform:scaleX(0.73);text-shadow:0.48px 0 0 #000,-0.48px 0 0 #000">3</span>
<span class="b" style="left:642.88px;top:305.31px;font-size:24.79px;transform:scaleX(0.76);text-shadow:0.46px 0 0 #000,-0.46px 0 0 #000">0</span>
<span class="b" style="left:655.14px;top:305.31px;font-size:24.79px;transform:scaleX(1.18)">-</span>
<span class="m" style="left:665.83px;top:306.49px;font-size:25.86px;transform:scaleX(0.74);text-shadow:0.47px 0 0 #000,-0.47px 0 0 #000">1</span>
<span class="m" style="left:678px;top:306.49px;font-size:25.86px;transform:scaleX(0.7);text-shadow:0.5px 0 0 #000,-0.5px 0 0 #000">1</span>
<span class="b" style="left:690.28px;top:305.31px;font-size:24.79px;transform:scaleX(0.76);text-shadow:0.46px 0 0 #000,-0.46px 0 0 #000">0</span>
<span class="b" style="left:701.95px;top:305.31px;font-size:24.79px;transform:scaleX(0.79);text-shadow:0.44px 0 0 #000,-0.44px 0 0 #000">9</span>
<span class="b" style="left:714.09px;top:305.31px;font-size:24.79px;transform:scaleX(0.75);text-shadow:0.47px 0 0 #000,-0.47px 0 0 #000">0</span>
<span class="b" style="left:726.16px;top:305.31px;font-size:24.79px;transform:scaleX(0.71);text-shadow:0.49px 0 0 #000,-0.49px 0 0 #000">5</span>
<span class="b" style="left:737.79px;top:305.31px;font-size:24.79px;transform:scaleX(0.76);text-shadow:0.46px 0 0 #000,-0.46px 0 0 #000">3</span>
<span class="b" style="left:9.56px;top:309.36px;font-size:16.88px;transform:scaleX(0.69);text-shadow:0.22px 0 0 #000,-0.22px 0 0 #000">A</span>
<span class="b" style="left:18.34px;top:309.36px;font-size:16.88px;transform:scaleX(0.47);text-shadow:0.32px 0 0 #000,-0.32px 0 0 #000">W</span>
<span class="m" style="left:26.14px;top:310.16px;font-size:17.61px;transform:scaleX(0.68);text-shadow:0.22px 0 0 #000,-0.22px 0 0 #000">1</span>
<span class="b" style="left:33.85px;top:309.36px;font-size:16.88px;transform:scaleX(0.82);text-shadow:0.18px 0 0 #000,-0.18px 0 0 #000">5</span>
<span class="d" style="left:479.95px;top:401.21px;font-size:17px;transform:scaleX(0.93)">B4</span>
<span class="d" style="left:702.89px;top:401.31px;font-size:17px;transform:scaleX(0.96)">A4</span>
<span class="d" style="left:424.64px;top:440.68px;font-size:15.5px;transform:scaleX(1)">0</span>
<span class="d" style="left:770.09px;top:440.68px;font-size:15.5px;transform:scaleX(1)">0</span>
<span class="d" style="left:487.19px;top:491.31px;font-size:17px;transform:scaleX(0.97)">P1</span>
<span class="d" style="left:749.38px;top:483.31px;font-size:17px;transform:scaleX(0.88)">A</span>
<span class="d" style="left:635.96px;top:471.71px;font-size:17px;transform:scaleX(1)">P3</span>
<span class="d" style="left:626.17px;top:518.01px;font-size:17px;transform:scaleX(0.91)">G</span>
<span class="d" style="left:592.17px;top:548.11px;font-size:17px;transform:scaleX(0.99)">P3</span>
<span class="d" style="left:467.66px;top:527.31px;font-size:17px;transform:scaleX(1)">P2</span>
<span class="d" style="left:466.78px;top:551.41px;font-size:17px;transform:scaleX(0.98)">A2</span>
<span class="d" style="left:467.1px;top:586.51px;font-size:17px;transform:scaleX(0.94)">A1</span>
<span class="d" style="left:715.41px;top:527.11px;font-size:17px;transform:scaleX(0.92)">A1</span>
<span class="d" style="left:715.96px;top:551.91px;font-size:17px;transform:scaleX(1)">P2</span>
<span class="d" style="left:715.96px;top:586.01px;font-size:17px;transform:scaleX(1)">P2</span>
<span class="d" style="left:759.78px;top:525.41px;font-size:17px;transform:scaleX(0.98)">A2</span>
<span class="d" style="left:422.3px;top:605.31px;font-size:17px;transform:scaleX(0.94)">A3</span>
<span class="d" style="left:445.33px;top:644.61px;font-size:17px;transform:scaleX(0.89)">A</span>
<span class="d" style="left:481.1px;top:640.31px;font-size:17px;transform:scaleX(0.94)">A1</span>
<span class="d" style="left:701.49px;top:640.31px;font-size:17px;transform:scaleX(0.99)">U2</span>
<span class="d" style="left:749.23px;top:645.21px;font-size:17px;transform:scaleX(0.89)">A</span>
<span class="d" style="left:631.16px;top:657.01px;font-size:17px;transform:scaleX(1)">P2</span>
<span class="d" style="left:563.72px;top:707.01px;font-size:17px;transform:scaleX(0.96)">U1</span>
<span class="d" style="left:481.24px;top:729.61px;font-size:17px;transform:scaleX(0.93)">B1</span>
<span class="d" style="left:704.17px;top:729.61px;font-size:17px;transform:scaleX(0.99)">B2</span>
<span class="d" style="left:423.97px;top:684.48px;font-size:15.5px;transform:scaleX(1)">4</span>
<span class="d" style="left:770.17px;top:684.48px;font-size:15.5px;transform:scaleX(1)">4</span>
<span class="d" style="left:432.02px;top:756.73px;font-size:16.5px;transform:scaleX(0.95)">T</span>
</div>
</div></body></html>
